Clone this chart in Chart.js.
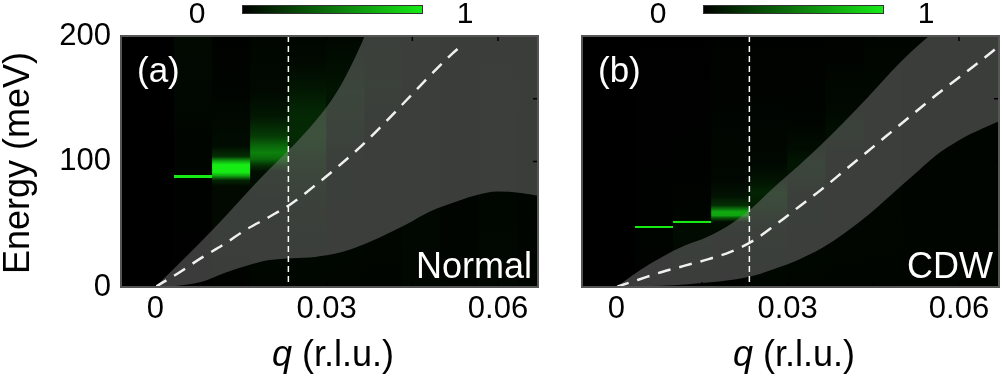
<!DOCTYPE html>
<html>
<head>
<meta charset="utf-8">
<script src="https://cdn.jsdelivr.net/npm/chart.js@4.4.1/dist/chart.umd.min.js"></script>
<style>
  body { margin: 0; background: #fff; }
  #wrap { position: relative; width: 1000px; height: 378px; overflow: hidden; font-family: 'Liberation Sans', Arial, sans-serif; color: #000; }
  canvas { position: absolute; top: 0; }
  .num { position: absolute; top: -4px; width: 40px; font-size: 30px; line-height: 34px; text-align: center; }
  .cbar { position: absolute; top: 5px; width: 179px; height: 7px; border: 1px solid #333; background: linear-gradient(to right, #000, rgb(22,235,22)); }
  .xt { position: absolute; top: 334px; width: 240px; font-size: 36px; line-height: 40px; text-align: center; white-space: nowrap; }
  .yt { position: absolute; left: -113.5px; top: 143px; width: 260px; font-size: 36px; line-height: 40px; text-align: center; transform: rotate(-90deg); white-space: nowrap; }
</style>
</head>
<body>
<div id="wrap">
  <canvas id="cA" width="560" height="378" style="left:0"></canvas>
  <canvas id="cB" width="440" height="378" style="left:560px"></canvas>
  <div class="num" style="left:177px">0</div>
  <div class="cbar" style="left:242px"></div>
  <div class="num" style="left:445px">1</div>
  <div class="num" style="left:638px">0</div>
  <div class="cbar" style="left:703px"></div>
  <div class="num" style="left:906px">1</div>
  <div class="yt">Energy (meV)</div>
  <div class="xt" style="left:213px"><i>q</i> (r.l.u.)</div>
  <div class="xt" style="left:674px"><i>q</i> (r.l.u.)</div>
</div>
<script>
// momentum grid for the shaded band edges
const qGrid = [0, 0.004, 0.008, 0.012, 0.016, 0.02, 0.024, 0.028, 0.032, 0.036, 0.04, 0.044, 0.048, 0.052, 0.056, 0.06, 0.064, 0.068];

// (a) Normal
const normalUpper = [0, 18, 36, 55, 75, 94, 112, 132, 157, 193, 240, 285, 330, 375, 420, 465, 510, 555];
const normalLower = [0, 1, 4, 11, 17, 21.5, 23, 24, 27, 33, 41, 50, 60, 67, 73, 76, 75, 72];
const normalMeanQ = [0, 0.004, 0.008, 0.012, 0.016, 0.02, 0.024, 0.028, 0.032, 0.036, 0.04, 0.044, 0.048, 0.052, 0.0535];
const normalMean = [0, 11, 23, 34, 46, 56, 67, 81, 96, 112, 130, 149, 168, 186, 192];

// (b) CDW
const cdwUpper = [0, 13, 24, 33, 40, 50, 64, 81, 97, 114, 132, 151, 171, 189, 205, 222, 240, 258];
const cdwLower = [0, 0.5, 1, 2, 3.5, 5.5, 9, 15, 22, 31, 43, 57, 73, 89, 105, 117, 126, 134];
const cdwMeanQ = [0, 0.004, 0.008, 0.012, 0.016, 0.02, 0.024, 0.028, 0.032, 0.036, 0.04, 0.044, 0.048, 0.052, 0.056, 0.06, 0.064, 0.067];
const cdwMean = [0, 6, 12, 17, 22, 28, 37, 50, 64, 78, 93, 108, 123, 138, 153, 167, 181, 192];

// intensity map columns: centre q, then [energy, intensity] stops per column
const qCols = [0.00667, 0.01333, 0.02, 0.02667, 0.03333, 0.04, 0.04667, 0.05333, 0.06, 0.06667];
const normalHeat = [
  [[0, 0], [60, 0.01], [86.8, 0.01], [87, 1], [89, 1], [89.2, 0.02], [120, 0.02], [160, 0.035], [200, 0.04]],
  [[0, 0.01], [50, 0.04], [80, 0.04], [85, 0.15], [89, 0.75], [91.5, 1], [97.5, 1], [100, 0.75], [104, 0.2], [112, 0.05], [150, 0.02], [200, 0.01]],
  [[0, 0.02], [70, 0.04], [92, 0.06], [97, 0.2], [102, 0.45], [107, 0.55], [112, 0.45], [120, 0.25], [135, 0.1], [155, 0.04], [200, 0.02]],
  [[0, 0.02], [70, 0.05], [100, 0.12], [120, 0.18], [140, 0.16], [160, 0.09], [180, 0.04], [200, 0.02]],
  [[0, 0.02], [100, 0.04], [130, 0.07], [155, 0.09], [175, 0.06], [200, 0.03]],
  [[0, 0.02], [130, 0.03], [160, 0.05], [200, 0.04]],
  [[0, 0.03], [200, 0.03]],
  [[0, 0.02], [200, 0.02]],
  [[0, 0.03], [200, 0.02]],
  [[0, 0.02], [200, 0.02]]
];
const cdwHeat = [
  [[0, 0.005], [30, 0.015], [47, 0.015], [47.2, 1], [48.8, 1], [49, 0.01], [200, 0]],
  [[0, 0.01], [30, 0.04], [51, 0.05], [51.2, 1], [52.8, 1], [53, 0.02], [90, 0.01], [200, 0]],
  [[0, 0.01], [40, 0.03], [52, 0.06], [55, 0.35], [57, 0.7], [60, 0.72], [62, 0.5], [65, 0.2], [72, 0.08], [85, 0.03], [200, 0.01]],
  [[0, 0.02], [50, 0.05], [65, 0.12], [75, 0.15], [85, 0.08], [100, 0.03], [200, 0.01]],
  [[0, 0.02], [75, 0.04], [90, 0.08], [100, 0.09], [110, 0.05], [130, 0.02], [200, 0.01]],
  [[0, 0.02], [105, 0.03], [125, 0.06], [140, 0.04], [200, 0.01]],
  [[0, 0.02], [150, 0.03], [200, 0.02]],
  [[0, 0.02], [200, 0.02]],
  [[0, 0.02], [200, 0.02]],
  [[0, 0.02], [200, 0.02]]
];

const qMarker = 0.0233;
const qLabelTicks = [0, 0.03, 0.06];
const qAllTicks = [0, 0.015, 0.03, 0.045, 0.06];
const eLabelTicks = [0, 100, 200];
const eMinorTicks = [50, 100, 150];

Chart.defaults.font.family = "'Liberation Sans', Arial, sans-serif";
const tickFont = { size: 31 };

let green = v => `rgb(${Math.round(22 * v)},${Math.round(235 * v)},${Math.round(22 * v)})`;

function heatFill(c, heat) {
  const chart = c.chart;
  if (!chart.chartArea || c.dataIndex === undefined) return 'rgba(0,0,0,0)';
  const y = chart.scales.y;
  const bot = y.getPixelForValue(0), top = y.getPixelForValue(200);
  const g = chart.ctx.createLinearGradient(0, bot, 0, top);
  for (const [e, v] of heat[c.dataIndex]) {
    g.addColorStop((y.getPixelForValue(e) - bot) / (top - bot), green(v));
  }
  return g;
}

const frame = {
  id: 'frame',
  beforeDatasetsDraw(chart) {
    const {ctx, chartArea: a} = chart;
    ctx.save();
    ctx.fillStyle = '#000';
    ctx.fillRect(a.left, a.top, a.width, a.height);
    ctx.restore();
  },
  afterDatasetsDraw(chart, args, opts) {
    const {ctx, chartArea: a, scales: {x, y}} = chart;
    ctx.save();
    ctx.strokeStyle = '#000';
    ctx.lineWidth = 1.5;
    ctx.beginPath();
    for (const v of qAllTicks) {
      const px = x.getPixelForValue(v);
      ctx.moveTo(px, a.bottom); ctx.lineTo(px, a.bottom - 5);
      ctx.moveTo(px, a.top); ctx.lineTo(px, a.top + 5);
    }
    for (const v of eMinorTicks) {
      const py = y.getPixelForValue(v);
      ctx.moveTo(a.left, py); ctx.lineTo(a.left + 5, py);
      ctx.moveTo(a.right, py); ctx.lineTo(a.right - 5, py);
    }
    ctx.stroke();
    ctx.strokeStyle = '#555';
    ctx.lineWidth = 2;
    ctx.strokeRect(a.left, a.top, a.width, a.height);
    ctx.fillStyle = '#fff';
    ctx.font = "35px 'Liberation Sans', Arial, sans-serif";
    ctx.textAlign = 'left';
    ctx.fillText(opts.tag, a.left + 16, a.top + 46);
    ctx.font = "36px 'Liberation Sans', Arial, sans-serif";
    ctx.textAlign = 'right';
    ctx.fillText(opts.phase, a.right - 6, a.bottom - 9);
    ctx.restore();
  }
};

function datasets(heat, upper, lower, meanQ, mean) {
  return [
    {
      type: 'bar',
      data: qCols.map(q => ({x: q, y: [0, 200]})),
      backgroundColor: c => heatFill(c, heat),
      borderWidth: 0,
      categoryPercentage: 1,
      barPercentage: 1,
      order: 4
    },
    {
      type: 'line',
      data: qGrid.map((q, i) => ({x: q, y: lower[i]})),
      borderColor: 'rgba(0,0,0,0)',
      borderWidth: 0,
      pointRadius: 0,
      fill: false,
      cubicInterpolationMode: 'monotone',
      order: 3
    },
    {
      type: 'line',
      data: qGrid.map((q, i) => ({x: q, y: upper[i]})),
      borderColor: 'rgba(0,0,0,0)',
      borderWidth: 0,
      backgroundColor: 'rgba(128,128,128,0.46)',
      fill: '-1',
      pointRadius: 0,
      cubicInterpolationMode: 'monotone',
      order: 2
    },
    {
      type: 'line',
      data: meanQ.map((q, i) => ({x: q, y: mean[i]})),
      borderColor: 'rgba(255,255,255,0.92)',
      borderWidth: 2.5,
      borderDash: [13, 9],
      pointRadius: 0,
      fill: false,
      cubicInterpolationMode: 'monotone',
      order: 1
    },
    {
      type: 'line',
      data: [{x: qMarker, y: 200}, {x: qMarker, y: 0}],
      borderColor: '#fff',
      borderWidth: 1.5,
      borderDash: [6, 4],
      pointRadius: 0,
      fill: false,
      order: 0
    }
  ];
}

function makePanel(id, heat, upper, lower, meanQ, mean, tag, phase, showY, pad) {
  return new Chart(document.getElementById(id), {
    type: 'line',
    data: {datasets: datasets(heat, upper, lower, meanQ, mean)},
    options: {
      responsive: false,
      animation: false,
      layout: {padding: pad},
      plugins: {
        legend: {display: false},
        tooltip: {enabled: false},
        frame: {tag: tag, phase: phase}
      },
      scales: {
        x: {
          type: 'linear',
          min: -0.006,
          max: 0.067,
          offset: false,
          grid: {display: false, drawTicks: false},
          border: {display: false},
          ticks: {
            font: tickFont, color: '#000', padding: 4, maxRotation: 0, autoSkip: false,
            callback: v => v === 0 ? '0' : v.toFixed(2)
          },
          afterBuildTicks: s => { s.ticks = qLabelTicks.map(v => ({value: v})); },
          afterFit: s => { s.height = 91; }
        },
        y: {
          type: 'linear',
          min: 0,
          max: 200,
          display: showY,
          grid: {display: false, drawTicks: false},
          border: {display: false},
          ticks: {font: tickFont, color: '#000', padding: 10},
          afterBuildTicks: s => { s.ticks = eLabelTicks.map(v => ({value: v})); },
          afterFit: s => { s.width = showY ? 121 : 0; }
        }
      }
    },
    plugins: [frame]
  });
}

makePanel('cA', normalHeat, normalUpper, normalLower, normalMeanQ, normalMean, '(a)', 'Normal', true,
  {left: 0, top: 36, right: 22, bottom: 0});
makePanel('cB', cdwHeat, cdwUpper, cdwLower, cdwMeanQ, cdwMean, '(b)', 'CDW', false,
  {left: 22, top: 36, right: 1, bottom: 0});
</script>
</body>
</html>
